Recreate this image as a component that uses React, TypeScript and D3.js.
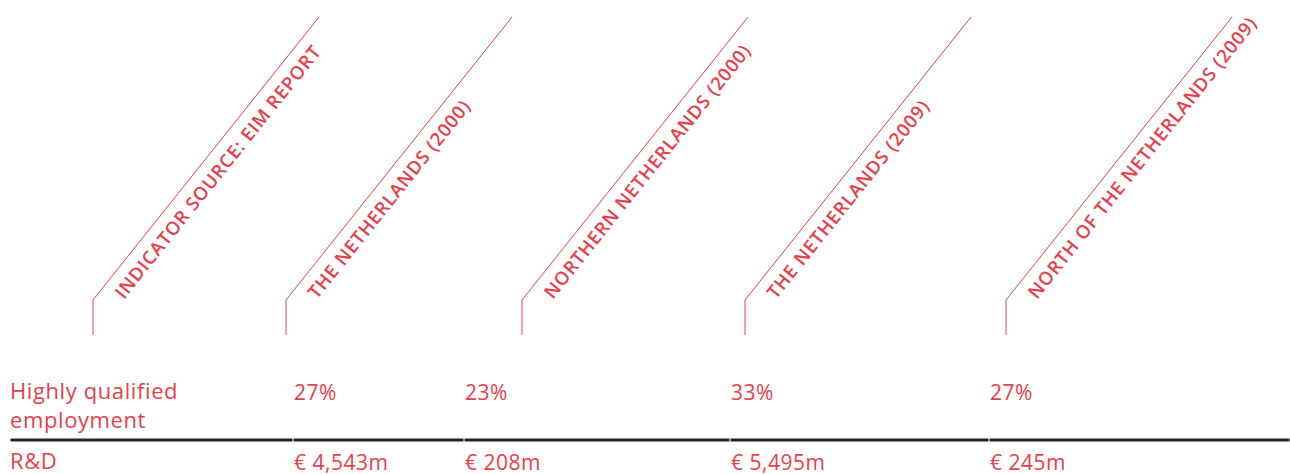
import React from "react";
import * as d3 from "d3";

// ---- data ----
const headers = [
  "INDICATOR SOURCE: EIM REPORT",
  "THE NETHERLANDS (2000)",
  "NORTHERN NETHERLANDS (2000)",
  "THE NETHERLANDS (2009)",
  "NORTH OF THE NETHERLANDS (2009)",
];
const valueColumns = [
  "THE NETHERLANDS (2000)",
  "NORTHERN NETHERLANDS (2000)",
  "THE NETHERLANDS (2009)",
  "NORTH OF THE NETHERLANDS (2009)",
];
const rowLabels = [["Highly qualified", "employment"], ["R&D"]];
const employmentValues = ["27%", "23%", "33%", "27%"];
const rdValues = ["€ 4,543m", "€ 208m", "€ 5,495m", "€ 245m"];

// ---- layout ----
const W = 1290;
const H = 474;
const RED = "#e8404a";
const headerX = d3.scaleOrdinal<string, number>().domain(headers).range([93, 286, 522, 745, 1006]);
const valueX = d3.scaleOrdinal<string, number>().domain(valueColumns).range([294, 465, 731, 990]);
const cornerY = 300;
const stemBottom = 335;
const topY = 17;
const diagDx = 226;
const angle = (Math.atan2(cornerY - topY, diagDx) * 180) / Math.PI;
const rowY = d3.scaleOrdinal<number, number>().domain([0, 1]).range([399, 469]);
const ruleY = 440;
const left = 10;

const bodyFont = "'Open Sans', sans-serif";

export default function App() {
  const breaks = [left, ...valueColumns.map((c) => valueX(c) - 1), W];
  const rows = [employmentValues, rdValues];
  return (
    <svg
      width={W}
      height={H}
      style={{ position: "absolute", left: 0, top: 0, background: "#fff" }}
    >
      {headers.map((h) => {
        const x = headerX(h);
        return (
          <g key={h}>
            <path
              d={`M${x},${stemBottom}V${cornerY}L${x + diagDx},${topY}`}
              fill="none"
              stroke={RED}
              strokeWidth={1}
            />
            <text
              transform={`translate(${x + 31},${cornerY}) rotate(${-angle})`}
              fill={RED}
              fontFamily="'Open Sans', sans-serif"
              fontWeight={600}
              fontSize={18.5}
              letterSpacing={0.8}
            >
              {h}
            </text>
          </g>
        );
      })}

      {rowLabels.map((lines, i) => (
        <text
          key={i}
          x={left}
          y={rowY(i)}
          fill={RED}
          fontFamily={bodyFont}
          fontSize={22}
          letterSpacing={0.6}
        >
          {lines.map((l, j) => (
            <tspan key={j} x={left} dy={j === 0 ? 0 : 29}>
              {l}
            </tspan>
          ))}
        </text>
      ))}

      {rows.map((vals, i) =>
        vals.map((v, j) => (
          <text
            key={`${i}-${j}`}
            x={valueX(valueColumns[j])}
            y={rowY(i) + 1}
            fill={RED}
            fontFamily={bodyFont}
            fontSize={21}
            letterSpacing={0.5}
          >
            {v}
          </text>
        ))
      )}

      {d3.pairs(breaks).map(([a, b], i) => (
        <line key={i} x1={a + 0.5} x2={b - 0.5} y1={ruleY} y2={ruleY} stroke="#262626" strokeWidth={3} />
      ))}
    </svg>
  );
}
